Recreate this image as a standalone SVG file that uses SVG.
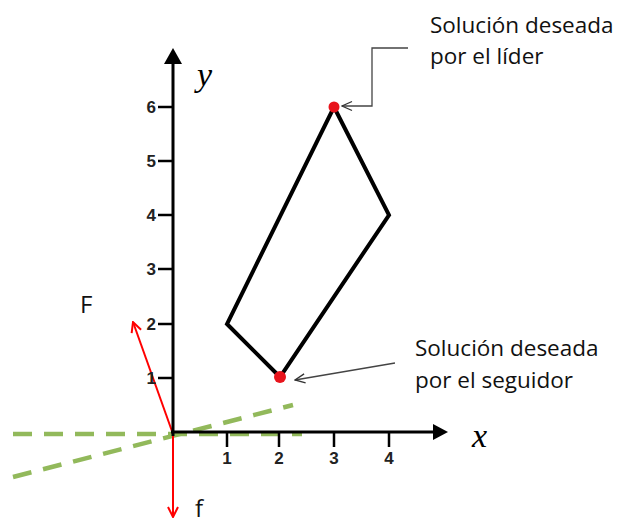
<svg xmlns="http://www.w3.org/2000/svg" width="623" height="526" viewBox="0 0 623 526">
<defs>
<style>
.axis{stroke:#000;stroke-width:3;fill:none}
.tick{stroke:#000;stroke-width:2.5}
.tl{font-family:"Liberation Sans",Arial,sans-serif;font-weight:bold;font-size:17px;fill:#222}
.lbl{font-family:"Open Sans","Liberation Sans",sans-serif;font-size:22.5px;fill:#111}
.fl{font-family:"Open Sans","Liberation Sans",sans-serif;font-size:24px;fill:#111}
.var{font-family:"Liberation Serif","Times New Roman",serif;font-style:italic;font-size:34px;fill:#000}
.dash{stroke:#92b95b;stroke-width:4.5;stroke-dasharray:19 12;fill:none}
.red{stroke:#f00;stroke-width:2;fill:none}
.lead{stroke:#444;stroke-width:1.3;fill:none}
</style>
<marker id="ra" viewBox="0 0 12 12" refX="11" refY="6" markerWidth="12" markerHeight="12" markerUnits="userSpaceOnUse" orient="auto">
<path d="M1,1 L11,6 L1,11" fill="none" stroke="#f00" stroke-width="2"/>
</marker>
<marker id="ga" viewBox="0 0 12 12" refX="11" refY="6" markerWidth="12" markerHeight="12" markerUnits="userSpaceOnUse" orient="auto">
<path d="M1,1.5 L11,6 L1,10.5" fill="none" stroke="#333" stroke-width="1.3"/>
</marker>
</defs>
<rect width="623" height="526" fill="#fff"/>

<g id="connectors">
<line class="dash" x1="13" y1="434" x2="302" y2="434"/>
<line class="dash" x1="13" y1="477" x2="293" y2="405"/>
<line class="red" x1="173" y1="434" x2="133" y2="322" marker-end="url(#ra)"/>
<line class="red" x1="173" y1="436" x2="173" y2="517" marker-end="url(#ra)"/>
<polyline class="lead" points="408,48 372,48 372,106 342,106" marker-end="url(#ga)"/>
<line class="lead" x1="395" y1="363" x2="295" y2="380" marker-end="url(#ga)"/>
</g>

<g id="axes">
<line class="axis" x1="173" y1="436" x2="173" y2="60"/>
<polygon points="173,48 164,64 182,64" fill="#000"/>
<line class="axis" x1="171" y1="432" x2="436" y2="432"/>
<polygon points="448,432 433,424 433,440" fill="#000"/>
<line class="tick" x1="158" y1="107" x2="173" y2="107"/>
<line class="tick" x1="158" y1="161" x2="173" y2="161"/>
<line class="tick" x1="158" y1="215" x2="173" y2="215"/>
<line class="tick" x1="158" y1="269" x2="173" y2="269"/>
<line class="tick" x1="158" y1="324" x2="173" y2="324"/>
<line class="tick" x1="158" y1="378" x2="173" y2="378"/>
<text class="tl" x="156" y="113" text-anchor="end">6</text>
<text class="tl" x="156" y="167" text-anchor="end">5</text>
<text class="tl" x="156" y="221" text-anchor="end">4</text>
<text class="tl" x="156" y="275" text-anchor="end">3</text>
<text class="tl" x="156" y="330" text-anchor="end">2</text>
<text class="tl" x="156" y="384" text-anchor="end">1</text>
<line class="tick" x1="227" y1="432" x2="227" y2="447"/>
<line class="tick" x1="279" y1="432" x2="279" y2="447"/>
<line class="tick" x1="334" y1="432" x2="334" y2="447"/>
<line class="tick" x1="389" y1="432" x2="389" y2="447"/>
<text class="tl" x="227" y="464" text-anchor="middle">1</text>
<text class="tl" x="279" y="464" text-anchor="middle">2</text>
<text class="tl" x="334" y="464" text-anchor="middle">3</text>
<text class="tl" x="389" y="464" text-anchor="middle">4</text>
<text class="var" x="197" y="86">y</text>
<text class="var" x="472" y="447">x</text>
</g>

<g id="region">
<polygon points="334,107 389,215 280,377 227,324" fill="none" stroke="#000" stroke-width="4" stroke-linejoin="miter"/>
</g>
<g id="leader-point">
<circle cx="334" cy="107" r="5.5" fill="#e8141c"/>
</g>
<g id="follower-point">
<circle cx="280" cy="377" r="6" fill="#e8141c"/>
</g>

<g id="label-leader">
<text class="lbl" x="430" y="33">Solución deseada</text>
<text class="lbl" x="430" y="64">por el líder</text>
</g>
<g id="label-follower">
<text class="lbl" x="415" y="356">Solución deseada</text>
<text class="lbl" x="415" y="388">por el seguidor</text>
</g>
<g id="label-F">
<text class="fl" x="80" y="313">F</text>
</g>
<g id="label-f">
<text class="fl" x="195" y="517">f</text>
</g>
</svg>
